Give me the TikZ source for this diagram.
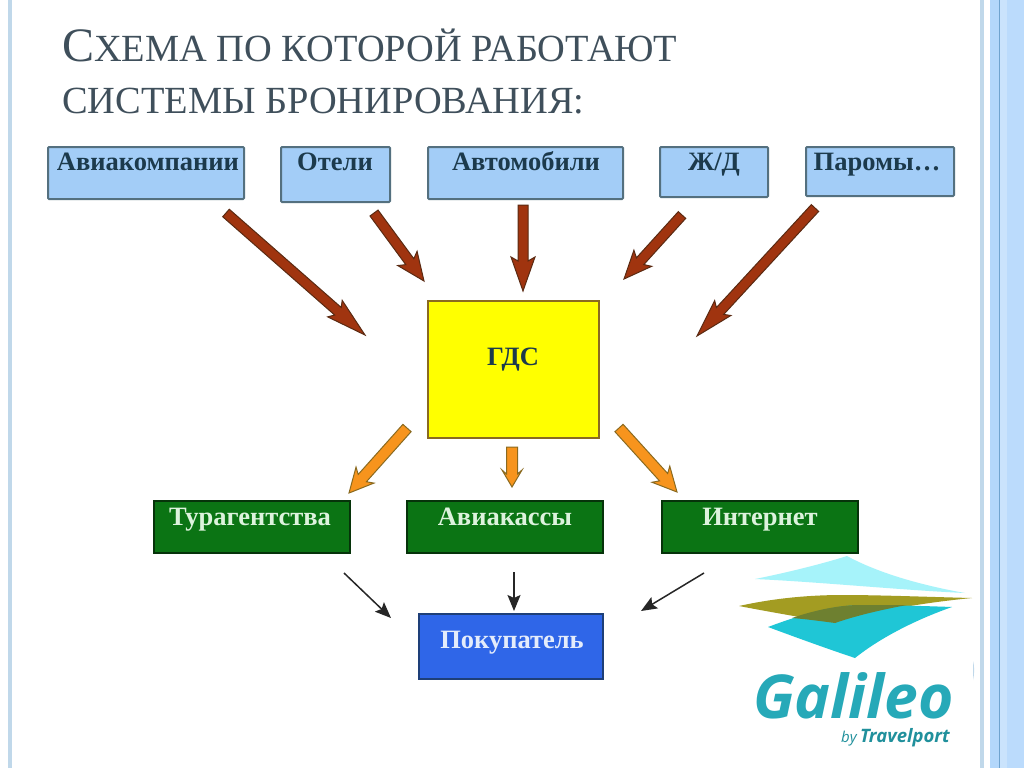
\documentclass[tikz,border=0pt]{standalone}
\usepackage{fontspec}
\setmainfont{Liberation Serif}
\newfontfamily\logofont{Open Sans}
\usetikzlibrary{arrows.meta}
\definecolor{titlecol}{HTML}{3F4F5B}
\definecolor{skyfill}{HTML}{A3CDF7}
\definecolor{skyedge}{HTML}{54707F}
\definecolor{inktext}{HTML}{1C3A4C}
\definecolor{brownfill}{HTML}{A0340F}
\definecolor{brownedge}{HTML}{5A2A12}
\definecolor{orangefill}{HTML}{F7941D}
\definecolor{orangeedge}{HTML}{8A6A20}
\definecolor{greenfill}{HTML}{0B7414}
\definecolor{greenedge}{HTML}{06330A}
\definecolor{greentext}{HTML}{DDF3DD}
\definecolor{bluefill}{HTML}{2F66E8}
\definecolor{blueedge}{HTML}{1E3F78}
\definecolor{bluetext}{HTML}{E4ECFB}
\definecolor{gdsfill}{HTML}{FFFF00}
\definecolor{stripa}{HTML}{C0D8EA}
\definecolor{stripb}{HTML}{B3D7FB}
\definecolor{stripc}{HTML}{6FA3CF}
\definecolor{stripd}{HTML}{BBDBFC}
\definecolor{logoteal}{HTML}{26A9B8}
\definecolor{logotop}{HTML}{A6F3FA}
\definecolor{logoolive}{HTML}{A39C22}
\definecolor{logolow}{HTML}{1FC6D6}
\definecolor{logomix}{HTML}{6E8030}
\tikzset{
  boxbase/.style={anchor=north west,inner sep=0pt,outer sep=0pt,line width=2pt},
  labeltext/.style={anchor=base,inner sep=0pt,font=\bfseries\fontsize{26.5}{28}\selectfont},
  skybox/.style={draw=skyedge,fill=skyfill,rounded corners=1pt},
  greenbox/.style={draw=greenedge,fill=greenfill},
  buybox/.style={draw=blueedge,fill=bluefill},
  gdsbox/.style={draw=orangeedge,fill=gdsfill},
  titletext/.style={anchor=base west,inner sep=0pt,text=titlecol},
  thinarrow/.style={draw=black!85,line width=1.5pt,-{Stealth[length=16pt,width=13pt,inset=3pt]}},
}
% block arrow: from, to, half shaft, half head, head length, fill, edge
\newcommand{\blockarrowb}[7]{%
  \path let \p1=(#1),\p2=(#2),\n1={atan2(\y2-\y1,\x2-\x1)},\n2={veclen(\x2-\x1,\y2-\y1)} in
    \pgfextra{\xdef\arrowang{\n1}\xdef\arrowlen{\n2}};
  \begin{scope}[shift={(#2)},rotate=\arrowang,x=1pt,y=1pt]
    \draw[draw=#7,fill=#6,line width=1pt,line join=miter]
      (-\arrowlen,#3) -- (-#5+4,#3) -- (-#5,#4) -- (0,0) -- (-#5,-#4) -- (-#5+4,-#3) -- (-\arrowlen,-#3) -- cycle;
  \end{scope}}
\usetikzlibrary{calc}
\begin{document}
\begin{tikzpicture}[x=1pt,y=-1pt]
\useasboundingbox (0,0) rectangle (1024,768);
\fill[white] (0,0) rectangle (1024,768);
% side strips
\fill[stripa] (8,0) rectangle (12,768);
\fill[stripa] (980,0) rectangle (984,768);
\fill[stripb] (990,0) rectangle (999,768);
\fill[stripc] (999,0) rectangle (1000,768);
\fill[stripb!70!white] (1000,0) rectangle (1007,768);
\fill[stripd] (1007,0) rectangle (1024,768);
% title
\node[titletext] (title1) at (62,62) {\fontsize{48}{50}\selectfont С\fontsize{38.4}{50}\selectfont ХЕМА ПО КОТОРОЙ РАБОТАЮТ};
\node[titletext] (title2) at (62,113) {\fontsize{38.4}{50}\selectfont СИСТЕМЫ БРОНИРОВАНИЯ:};
% source boxes
\node[boxbase,skybox,minimum width=196pt,minimum height=52pt] (air) at (48,147) {};
\node[boxbase,skybox,minimum width=109pt,minimum height=55pt] (hotel) at (281,147) {};
\node[boxbase,skybox,minimum width=195pt,minimum height=52pt] (auto) at (428,147) {};
\node[boxbase,skybox,minimum width=108pt,minimum height=50pt] (rail) at (660,147) {};
\node[boxbase,skybox,minimum width=148pt,minimum height=49pt] (ferry) at (806,147) {};
\node[labeltext,text=inktext] (airt) at (148,170) {Авиакомпании};
\node[labeltext,text=inktext] (hotelt) at (335,170) {Отели};
\node[labeltext,text=inktext] (autot) at (526,170) {Автомобили};
\node[labeltext,text=inktext] (railt) at (714,170) {Ж/Д};
\node[labeltext,text=inktext] (ferryt) at (877,170) {Паромы…};
% centre
\node[boxbase,gdsbox,minimum width=171pt,minimum height=137pt] (gds) at (428,301) {};
\node[labeltext,text=inktext] (gdst) at (513,365) {ГДС};
% agents
\node[boxbase,greenbox,minimum width=196pt,minimum height=52pt] (tour) at (154,501) {};
\node[boxbase,greenbox,minimum width=196pt,minimum height=52pt] (tick) at (407,501) {};
\node[boxbase,greenbox,minimum width=196pt,minimum height=52pt] (web) at (662,501) {};
\node[labeltext,text=greentext] (tourt) at (250,525) {Турагентства};
\node[labeltext,text=greentext] (tickt) at (505,525) {Авиакассы};
\node[labeltext,text=greentext] (webt) at (760,525) {Интернет};
% buyer
\node[boxbase,buybox,minimum width=184pt,minimum height=65pt] (buy) at (419,614) {};
\node[labeltext,text=bluetext] (buyt) at (512,648) {Покупатель};
% arrow ends
\coordinate (b1s) at (226,213); \coordinate (b1e) at (365,335);
\coordinate (b2s) at (374,213); \coordinate (b2e) at (424,281);
\coordinate (b3s) at (523,205); \coordinate (b3e) at (523,291);
\coordinate (b4s) at (682,215); \coordinate (b4e) at (624,279);
\coordinate (b5s) at (815,208); \coordinate (b5e) at (697,336);
\coordinate (o1s) at (407,428); \coordinate (o1e) at (349,493);
\coordinate (o2s) at (512,447); \coordinate (o2e) at (512,487);
\coordinate (o3s) at (619,428); \coordinate (o3e) at (677,492);
\coordinate (k1s) at (344,573); \coordinate (k1e) at (391,618);
\coordinate (k2s) at (514,572); \coordinate (k2e) at (514,611);
\coordinate (k3s) at (704,573); \coordinate (k3e) at (641,611);
\blockarrowb{b1s}{b1e}{5}{11}{40}{brownfill}{brownedge}
\blockarrowb{b2s}{b2e}{5}{12}{28}{brownfill}{brownedge}
\blockarrowb{b3s}{b3e}{5}{12}{34}{brownfill}{brownedge}
\blockarrowb{b4s}{b4e}{5}{12}{28}{brownfill}{brownedge}
\blockarrowb{b5s}{b5e}{5}{11}{38}{brownfill}{brownedge}
\blockarrowb{o1s}{o1e}{5.5}{12}{24}{orangefill}{orangeedge}
\blockarrowb{o2s}{o2e}{5.5}{10}{17}{orangefill}{orangeedge}
\blockarrowb{o3s}{o3e}{5.5}{12}{24}{orangefill}{orangeedge}
\draw[thinarrow] (k1s) -- (k1e);
\draw[thinarrow] (k2s) -- (k2e);
\draw[thinarrow] (k3s) -- (k3e);
% logo
\fill[stripa] (973,661) .. controls (974.5,666) and (974.5,674) .. (973,680) -- cycle;
\fill[logotop] (755,579) .. controls (790,572) and (825,563) .. (847,556)
  .. controls (880,574) and (925,586) .. (965,593) .. controls (900,590) and (820,582) .. (755,579) -- cycle;
\fill[logoolive] (739,606) .. controls (775,598) and (810,595) .. (843,595)
  .. controls (880,595) and (930,597) .. (972,598) .. controls (920,603) and (870,612) .. (835,623)
  .. controls (805,618) and (770,612) .. (739,606) -- cycle;
\fill[logolow] (768,627) .. controls (800,615) and (830,606) .. (860,605)
  .. controls (890,605) and (925,606) .. (952,607) .. controls (915,620) and (880,638) .. (855,658)
  .. controls (825,648) and (795,637) .. (768,627) -- cycle;
\fill[logomix] (792,618) .. controls (815,610) and (840,605) .. (860,605)
  .. controls (885,605) and (895,605) .. (907,605) .. controls (880,610) and (855,616) .. (835,623)
  .. controls (820,621) and (805,619) .. (792,618) -- cycle;
\node[anchor=base west,inner sep=0pt,text=logoteal,font=\logofont\bfseries\itshape\fontsize{60.5}{62}\selectfont] (gal) at (753,718) {Galileo};
\node[anchor=base east,inner sep=0pt,text=logoteal!85!black,font=\logofont\bfseries\itshape\fontsize{18.5}{20}\selectfont] (tp) at (950,742) {Travelport};
\node[anchor=base east,inner sep=0pt,text=logoteal!85!black,font=\logofont\itshape\fontsize{15}{18}\selectfont] (by) at (857,742) {by};
\end{tikzpicture}
\end{document}
